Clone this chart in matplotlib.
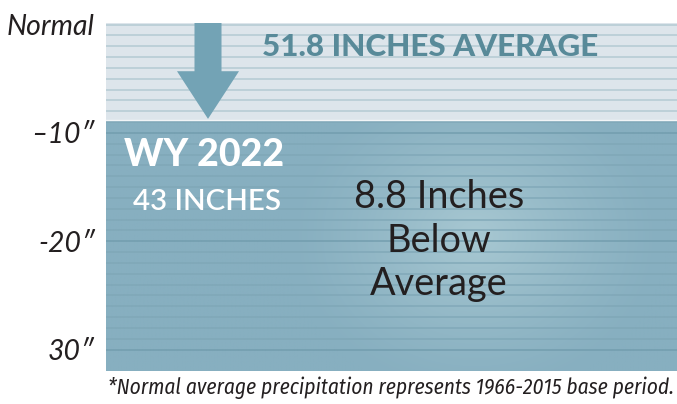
import numpy as np
import matplotlib
matplotlib.use("Agg")
import matplotlib.pyplot as plt
from matplotlib.patches import FancyArrow

# data
normal_avg = 51.8
wy2022 = 43.0
deficit = round(normal_avg - wy2022, 1)
tick_vals = [0, -10, -20, -30]
tick_labels = ["Normal", "\u201310\u2033", "-20\u2033", "30\u2033"]
below_lines = [f"{deficit} Inches", "Below", "Average"]
footnote = "*Normal average precipitation represents 1966-2015 base period."

sans = ["Lato", "DejaVu Sans"]
narrow = ["Fira Sans Condensed", "Roboto Condensed", "Asap Condensed",
          "Liberation Sans Narrow", "Lato", "DejaVu Sans"]

fig = plt.figure(figsize=(6.77, 4.04), dpi=100)
ax = fig.add_axes([106 / 677, 33.3 / 404, 571 / 677, 348 / 404])
ymin, ymax = -31.95, 0.18
ax.set_xlim(0, 571)
ax.set_ylim(ymin, ymax)


def py(pix):
    # reference pixel row -> inches below normal
    return -(pix - 25) / 10.82


# light "normal" block
ax.axhspan(-deficit, ymax, color="#dde5eb", zorder=0)

# dark deficit block with a soft glow
gx = np.linspace(0, 571, 300)
gy = np.linspace(ymin, -deficit, 200)
X, Y = np.meshgrid(gx, gy)
r = np.sqrt(((X - 370) / 190) ** 2 + ((Y + 19.5) / 15) ** 2)
glow = np.clip(1 - r, 0, 1) ** 1.3
c0 = np.array([0x87, 0xaf, 0xc0]) / 255
c1 = np.array([0xa8, 0xc8, 0xd2]) / 255
img = c0 + glow[..., None] * (c1 - c0)
ax.imshow(img, extent=(0, 571, ymin, -deficit), origin="lower",
          aspect="auto", zorder=1, interpolation="bilinear")
ax.axhline(-deficit, color="#f2f5f7", lw=1.0, zorder=3)

# ruled lines every inch
for v in range(0, -31, -1):
    if v > -deficit:
        ax.axhline(v, color="#b7ccd5", lw=1.2, zorder=2)
    else:
        col = "#6f9aab" if v % 10 == 0 else "#7ea6b6"
        ax.axhline(v, color=col, lw=1.2, alpha=0.8, zorder=2)

# arrow
ax.add_patch(FancyArrow(102, ymax, 0, -deficit - ymax + 0.1, width=27,
                        head_width=62, head_length=4.4,
                        length_includes_head=True, color="#73a3b5",
                        lw=0, zorder=4))

t_avg = ax.text(324, py(47), f"{normal_avg} INCHES AVERAGE", family=sans,
                weight="black", fontsize=20, color="#588a99", ha="center",
                va="center", zorder=5)
t_wy = ax.text(98, py(155), "WY 2022", family=sans, weight="black",
               fontsize=24, color="white", ha="center", va="center", zorder=5)
t_43 = ax.text(101.5, py(202.5), f"{wy2022:.0f} INCHES", family=sans,
               weight="semibold", fontsize=18, color="white", ha="center",
               va="center", zorder=5)
t_below = [ax.text(333, py(p), s, family=sans, fontsize=24, color="#231f20",
                   ha="center", va="center", zorder=5)
           for s, p in zip(below_lines, [197, 241, 284])]

ax.set_xticks([])
ax.set_yticks(tick_vals)
ax.set_yticklabels(tick_labels, family=sans, style="italic", fontsize=18,
                   color="#231f20")
ax.tick_params(axis="y", length=0, pad=8)
for s in ax.spines.values():
    s.set_visible(False)

t_foot = fig.text(391 / 677, 1 - 388 / 404, footnote, family=narrow,
                  style="italic", fontsize=13, color="#231f20",
                  ha="center", va="center")


def fit(texts, target):
    # scale font size so the first text is `target` pixels wide
    for _ in range(2):
        fig.canvas.draw()
        w = texts[0].get_window_extent().width
        size = texts[0].get_fontsize() * target / w
        for t in texts:
            t.set_fontsize(size)


fit([t_avg], 336)
fit([t_wy], 160)
fit([t_43], 148)
fit(t_below, 170)
fit(ax.get_yticklabels(), 88)
fit([t_foot], 566)

fig.savefig("out.png", dpi=100)
